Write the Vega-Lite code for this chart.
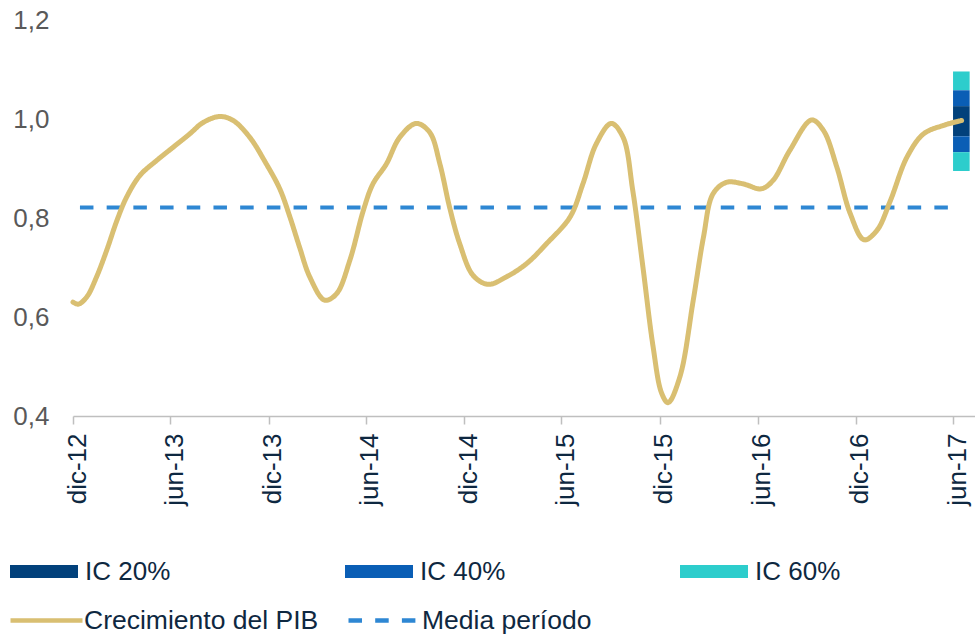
{
  "$schema": "https://vega.github.io/schema/vega-lite/v6.json",
  "width": 902,
  "height": 396,
  "autosize": {"type": "none"},
  "padding": {"left": 73, "top": 20, "right": 0, "bottom": 218},
  "background": "white",
  "config": {"view": {"stroke": null}, "font": "Liberation Sans"},
  "datasets": {
    "fan": [
      {"fecha": "2017-06-01", "fecha_fin": "2017-07-02", "valor": 1.058, "valor2": 1.096, "banda": "IC 60%"},
      {"fecha": "2017-06-01", "fecha_fin": "2017-07-02", "valor": 1.026, "valor2": 1.058, "banda": "IC 40%"},
      {"fecha": "2017-06-01", "fecha_fin": "2017-07-02", "valor": 0.965, "valor2": 1.026, "banda": "IC 20%"},
      {"fecha": "2017-06-01", "fecha_fin": "2017-07-02", "valor": 0.933, "valor2": 0.965, "banda": "IC 40%"},
      {"fecha": "2017-06-01", "fecha_fin": "2017-07-02", "valor": 0.895, "valor2": 0.933, "banda": "IC 60%"}
    ],
    "media": [
      {"fecha": "2012-12-14", "valor": 0.821, "serie": "Media período"},
      {"fecha": "2017-06-01", "valor": 0.821, "serie": "Media período"}
    ],
    "pib": [
      {"fecha": "2012-12-01", "valor": 0.630, "serie": "Crecimiento del PIB"},
      {"fecha": "2012-12-11", "valor": 0.626, "serie": "Crecimiento del PIB"},
      {"fecha": "2012-12-27", "valor": 0.641, "serie": "Crecimiento del PIB"},
      {"fecha": "2013-01-14", "valor": 0.681, "serie": "Crecimiento del PIB"},
      {"fecha": "2013-02-02", "valor": 0.735, "serie": "Crecimiento del PIB"},
      {"fecha": "2013-02-21", "valor": 0.795, "serie": "Crecimiento del PIB"},
      {"fecha": "2013-03-11", "valor": 0.842, "serie": "Crecimiento del PIB"},
      {"fecha": "2013-04-05", "valor": 0.886, "serie": "Crecimiento del PIB"},
      {"fecha": "2013-05-06", "valor": 0.916, "serie": "Crecimiento del PIB"},
      {"fecha": "2013-06-06", "valor": 0.943, "serie": "Crecimiento del PIB"},
      {"fecha": "2013-07-07", "valor": 0.970, "serie": "Crecimiento del PIB"},
      {"fecha": "2013-08-01", "valor": 0.993, "serie": "Crecimiento del PIB"},
      {"fecha": "2013-09-01", "valor": 1.005, "serie": "Crecimiento del PIB"},
      {"fecha": "2013-09-26", "valor": 0.997, "serie": "Crecimiento del PIB"},
      {"fecha": "2013-10-27", "valor": 0.963, "serie": "Crecimiento del PIB"},
      {"fecha": "2013-11-27", "valor": 0.909, "serie": "Crecimiento del PIB"},
      {"fecha": "2013-12-22", "valor": 0.859, "serie": "Crecimiento del PIB"},
      {"fecha": "2014-01-10", "valor": 0.802, "serie": "Crecimiento del PIB"},
      {"fecha": "2014-01-28", "valor": 0.741, "serie": "Crecimiento del PIB"},
      {"fecha": "2014-02-16", "valor": 0.681, "serie": "Crecimiento del PIB"},
      {"fecha": "2014-03-16", "valor": 0.634, "serie": "Crecimiento del PIB"},
      {"fecha": "2014-04-07", "valor": 0.647, "serie": "Crecimiento del PIB"},
      {"fecha": "2014-05-02", "valor": 0.715, "serie": "Crecimiento del PIB"},
      {"fecha": "2014-05-27", "valor": 0.815, "serie": "Crecimiento del PIB"},
      {"fecha": "2014-06-14", "valor": 0.869, "serie": "Crecimiento del PIB"},
      {"fecha": "2014-07-09", "valor": 0.909, "serie": "Crecimiento del PIB"},
      {"fecha": "2014-08-03", "valor": 0.963, "serie": "Crecimiento del PIB"},
      {"fecha": "2014-09-03", "valor": 0.991, "serie": "Crecimiento del PIB"},
      {"fecha": "2014-09-28", "valor": 0.973, "serie": "Crecimiento del PIB"},
      {"fecha": "2014-10-17", "valor": 0.909, "serie": "Crecimiento del PIB"},
      {"fecha": "2014-11-04", "valor": 0.822, "serie": "Crecimiento del PIB"},
      {"fecha": "2014-11-23", "valor": 0.748, "serie": "Crecimiento del PIB"},
      {"fecha": "2014-12-18", "valor": 0.684, "serie": "Crecimiento del PIB"},
      {"fecha": "2015-01-15", "valor": 0.666, "serie": "Crecimiento del PIB"},
      {"fecha": "2015-02-18", "valor": 0.681, "serie": "Crecimiento del PIB"},
      {"fecha": "2015-03-28", "valor": 0.708, "serie": "Crecimiento del PIB"},
      {"fecha": "2015-05-04", "valor": 0.748, "serie": "Crecimiento del PIB"},
      {"fecha": "2015-06-17", "valor": 0.802, "serie": "Crecimiento del PIB"},
      {"fecha": "2015-07-11", "valor": 0.869, "serie": "Crecimiento del PIB"},
      {"fecha": "2015-08-05", "valor": 0.950, "serie": "Crecimiento del PIB"},
      {"fecha": "2015-09-02", "valor": 0.991, "serie": "Crecimiento del PIB"},
      {"fecha": "2015-09-24", "valor": 0.963, "serie": "Crecimiento del PIB"},
      {"fecha": "2015-10-12", "valor": 0.856, "serie": "Crecimiento del PIB"},
      {"fecha": "2015-10-31", "valor": 0.701, "serie": "Crecimiento del PIB"},
      {"fecha": "2015-11-19", "valor": 0.540, "serie": "Crecimiento del PIB"},
      {"fecha": "2015-12-05", "valor": 0.446, "serie": "Crecimiento del PIB"},
      {"fecha": "2015-12-17", "valor": 0.427, "serie": "Crecimiento del PIB"},
      {"fecha": "2016-01-08", "valor": 0.479, "serie": "Crecimiento del PIB"},
      {"fecha": "2016-02-02", "valor": 0.634, "serie": "Crecimiento del PIB"},
      {"fecha": "2016-02-21", "valor": 0.761, "serie": "Crecimiento del PIB"},
      {"fecha": "2016-03-10", "valor": 0.849, "serie": "Crecimiento del PIB"},
      {"fecha": "2016-04-04", "valor": 0.872, "serie": "Crecimiento del PIB"},
      {"fecha": "2016-05-05", "valor": 0.869, "serie": "Crecimiento del PIB"},
      {"fecha": "2016-06-08", "valor": 0.859, "serie": "Crecimiento del PIB"},
      {"fecha": "2016-06-30", "valor": 0.876, "serie": "Crecimiento del PIB"},
      {"fecha": "2016-07-31", "valor": 0.936, "serie": "Crecimiento del PIB"},
      {"fecha": "2016-09-10", "valor": 0.998, "serie": "Crecimiento del PIB"},
      {"fecha": "2016-10-02", "valor": 0.977, "serie": "Crecimiento del PIB"},
      {"fecha": "2016-10-27", "valor": 0.903, "serie": "Crecimiento del PIB"},
      {"fecha": "2016-11-21", "valor": 0.809, "serie": "Crecimiento del PIB"},
      {"fecha": "2016-12-17", "valor": 0.756, "serie": "Crecimiento del PIB"},
      {"fecha": "2017-01-10", "valor": 0.775, "serie": "Crecimiento del PIB"},
      {"fecha": "2017-02-04", "valor": 0.835, "serie": "Crecimiento del PIB"},
      {"fecha": "2017-03-07", "valor": 0.923, "serie": "Crecimiento del PIB"},
      {"fecha": "2017-04-07", "valor": 0.970, "serie": "Crecimiento del PIB"},
      {"fecha": "2017-05-14", "valor": 0.987, "serie": "Crecimiento del PIB"},
      {"fecha": "2017-06-17", "valor": 0.997, "serie": "Crecimiento del PIB"}
    ]
  },
  "encoding": {
    "x": {
      "field": "fecha",
      "type": "temporal",
      "scale": {
        "type": "utc",
        "domain": [
          {"year": 2012, "month": 12, "date": 1, "utc": true},
          {"year": 2017, "month": 7, "date": 12, "utc": true}
        ]
      },
      "axis": {
        "values": [
          {"year": 2012, "month": 12, "date": 1, "utc": true},
          {"year": 2013, "month": 6, "date": 1, "utc": true},
          {"year": 2013, "month": 12, "date": 1, "utc": true},
          {"year": 2014, "month": 6, "date": 1, "utc": true},
          {"year": 2014, "month": 12, "date": 1, "utc": true},
          {"year": 2015, "month": 6, "date": 1, "utc": true},
          {"year": 2015, "month": 12, "date": 1, "utc": true},
          {"year": 2016, "month": 6, "date": 1, "utc": true},
          {"year": 2016, "month": 12, "date": 1, "utc": true},
          {"year": 2017, "month": 6, "date": 1, "utc": true}
        ],
        "labelExpr": "(utcmonth(datum.value) == 11 ? 'dic-' : 'jun-') + utcFormat(datum.value, '%y')",
        "labelAngle": -90,
        "labelAlign": "right",
        "labelBaseline": "top",
        "labelOffset": -9,
        "labelFontSize": 26,
        "labelColor": "#0E2841",
        "labelPadding": 9,
        "labelFlush": false,
        "labelOverlap": false,
        "tickSize": 8,
        "tickWidth": 1.5,
        "tickColor": "#BFBFBF",
        "domainColor": "#BFBFBF",
        "domainWidth": 1.5,
        "grid": false,
        "title": null
      }
    },
    "y": {
      "field": "valor",
      "type": "quantitative",
      "scale": {"domain": [0.4, 1.2], "nice": false, "zero": false},
      "axis": {
        "values": [0.4, 0.6, 0.8, 1.0, 1.2],
        "labelExpr": "replace(format(datum.value, '.1f'), '.', ',')",
        "labelFontSize": 26,
        "labelColor": "#595959",
        "labelPadding": 24,
        "domain": false,
        "ticks": false,
        "grid": false,
        "title": null
      }
    }
  },
  "layer": [
    {
      "data": {"name": "fan"},
      "mark": {"type": "rect", "opacity": 1},
      "encoding": {
        "x2": {"field": "fecha_fin"},
        "y2": {"field": "valor2"},
        "fill": {
          "field": "banda",
          "type": "nominal",
          "scale": {"domain": ["IC 20%", "IC 40%", "IC 60%"], "range": ["#02417B", "#0A5EB5", "#2DCDCC"]},
          "legend": {
            "orient": "none",
            "legendX": -63,
            "legendY": 517.5,
            "direction": "horizontal",
            "columns": 3,
            "columnPadding": 174,
            "gridAlign": "all",
            "symbolType": "M-1,-0.191H1V0.191H-1Z",
            "symbolSize": 4624,
            "symbolStrokeWidth": 0,
            "symbolOpacity": 1,
            "labelFontSize": 26,
            "labelColor": "#0E2841",
            "labelOffset": 7,
            "labelLimit": 400,
            "title": null,
            "padding": 0
          }
        }
      }
    },
    {
      "data": {"name": "media"},
      "mark": {"type": "line", "strokeWidth": 4},
      "encoding": {
        "stroke": {
          "field": "serie",
          "type": "nominal",
          "scale": {"domain": ["Crecimiento del PIB", "Media período"], "range": ["#D9BF72", "#2E87D3"]},
          "legend": {
            "orient": "none",
            "legendX": -65,
            "legendY": 562,
            "direction": "horizontal",
            "columns": 2,
            "columnPadding": 20,
            "symbolType": "stroke",
            "symbolSize": 5184,
            "symbolStrokeWidth": 4.5,
            "labelFontSize": 26.5,
            "labelColor": "#0E2841",
            "labelOffset": -1,
            "labelLimit": 400,
            "title": null,
            "padding": 0
          }
        },
        "strokeDash": {
          "field": "serie",
          "type": "nominal",
          "scale": {"domain": ["Crecimiento del PIB", "Media período"], "range": [[1, 0], [13.5, 13.2]]}
        }
      }
    },
    {
      "data": {"name": "pib"},
      "mark": {"type": "line", "strokeWidth": 5, "strokeCap": "round", "strokeJoin": "round", "interpolate": "catmull-rom"},
      "encoding": {
        "stroke": {"field": "serie", "type": "nominal"},
        "strokeDash": {"field": "serie", "type": "nominal"}
      }
    }
  ]
}
